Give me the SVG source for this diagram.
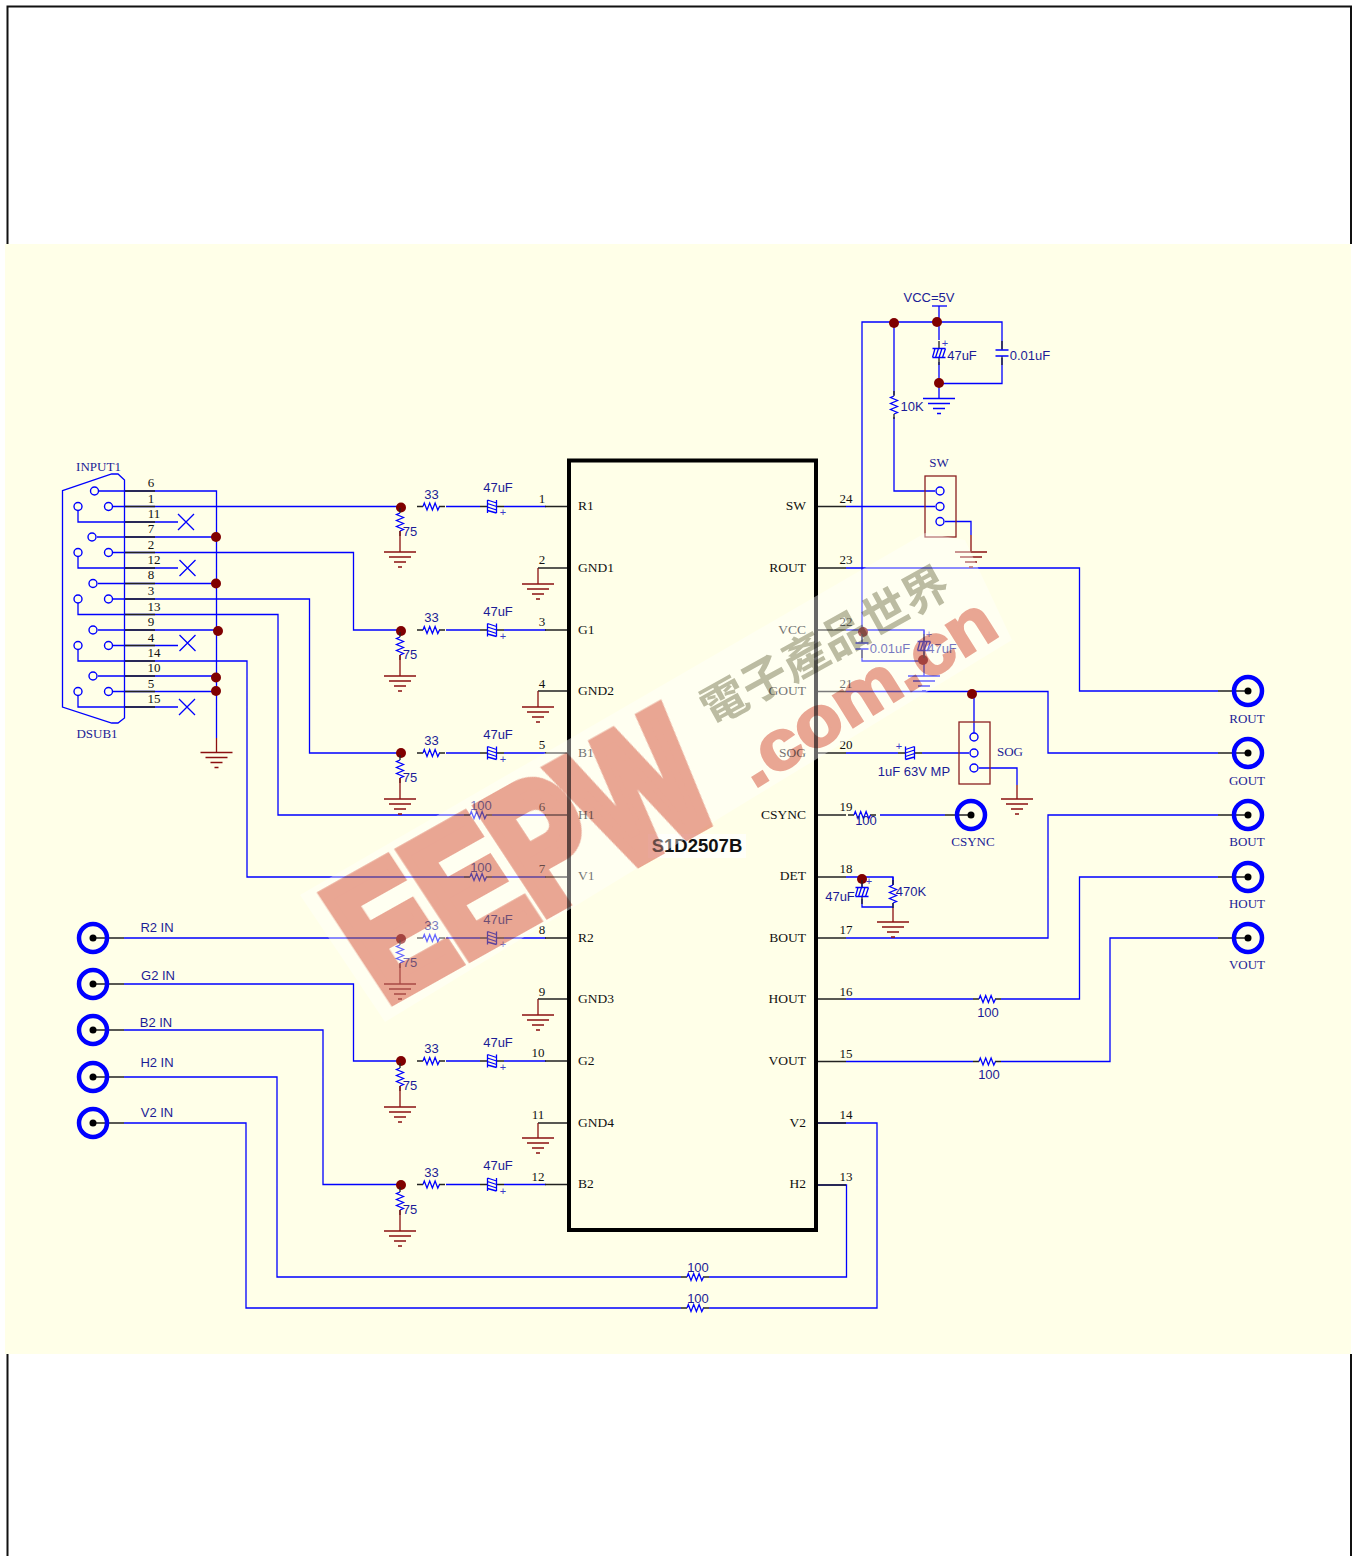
<svg xmlns="http://www.w3.org/2000/svg" xmlns:xlink="http://www.w3.org/1999/xlink" width="1358" height="1556" viewBox="0 0 1358 1556">
<style>
text{text-anchor:middle}
.s{font:13px "Liberation Sans",Arial,sans-serif;fill:#1c1c96}
.b{font:13px "Liberation Serif","Times New Roman",serif;fill:#1c1c96}
.n{font:13px "Liberation Serif","Times New Roman",serif;fill:#111}
.l{font:13.5px "Liberation Serif","Times New Roman",serif;fill:#111;text-anchor:start}
.r{font:13.5px "Liberation Serif","Times New Roman",serif;fill:#111;text-anchor:end}
.p{font:11px "Liberation Sans",Arial,sans-serif;fill:#3a3ac8}
.w{fill:none;stroke:#0000ff;stroke-width:1.3}
.k{fill:none;stroke:#222;stroke-width:1.3}
.m{fill:none;stroke:#8b1010;stroke-width:1.3}
.d{fill:#800000;stroke:none}
.o{fill:none;stroke:#0000ff;stroke-width:1.4}
.box{fill:none;stroke:#8b2020;stroke-width:1.3}
.ring{fill:none;stroke:#0000ff;stroke-width:4.5}
.gr{stroke:#8b1010}
.gb{stroke:#0000ff}
</style>
<defs>
<g id="gnd" fill="none" stroke-width="1.3"><path d="M-16 0H16M-11 5H11M-6 10H6M-2 15H2"/></g>
<g id="rh"><path class="k" d="M-14 0H-8M8 0H14"/><path class="w" d="M-8 0l1.3-3.5 2.7 7 2.7-7 2.7 7 2.7-7 2.7 7 1.7-3.5"/></g>
<g id="rv"><path class="k" d="M0-14V-9M0 9V14"/><path class="w" d="M0-9l-3.5 1.5 7 3-7 3 7 3-7 3 7 3-3.500 1.500"/></g>
<g id="cap"><path class="k" d="M-12 0H-4.500M4.500 0H12"/><path class="w" d="M-4.500-6.500V6.500M4.500-6.500V6.500M-4.500-6.500L4.500-3.500M-4.500-3L4.500 0M-4.500 .5L4.500 3.500M-4.500 4L4.500 6.500"/></g>
<g id="np"><path class="k" d="M0-12V-3M0 3V12"/><path class="w" d="M-6.500-3H6.500M-6.500 3H6.500"/></g>
<g id="conn"><circle class="ring" r="14"/><circle r="3.500" fill="#000"/></g>
</defs>
<rect width="1358" height="1556" fill="#fff"/>
<path d="M7.500 244V6.500H1351V244M7.500 1354V1556M1351 1354V1556" fill="none" stroke="#111" stroke-width="2"/>
<rect x="5" y="244" width="1346" height="1110" fill="#ffffe8"/>

<g id="connectors">
<path class="w" d="M99 491H216.500V738M113 506.500H401M78 510V522H178M97 537H216M113 552.500H353.500V630H401M78 556.500V568H178M98 583.500H216M113 599H309.500V753H401M78 603V614.500H278V815H470M98 630H216M113 645.500H178M78 649.500V661H247V877H470M98 676H216M113 691.500H216M78 695.500V707H178"/>
<path class="w" d="M124 938H401M124 984H353.500V1061H401M124 1030H323V1184.500H401M124 1077H277V1277H681M709 1277H846.500V1185H818M124 1123H246V1308H681M709 1308H877V1123H818"/>
<path class="w" d="M446 506.500H480M446 630H480M446 753H480M446 938H480M446 1061H480M446 1184.500H480M504 506.500H546M504 630H546M504 753H546M504 938H546M504 1061H546M504 1184.500H546M492 815H546M492 877H546"/>
<path class="w" d="M846 506.500H935M846 568H1079.500V691H1218M846 630H924V660M846 691.500H1048V753H1218M846 753H898M922 753H969M846 938H1048V815H1218M846 999H973M1001 999H1079.500V877H1218M846 1061.500H973M1001 1061.500H1110V938H1218M880 815H945M846 877H893V885"/>
<path class="w" d="M862 630V322H1002V349M1002 358V383.500H939M894 322V395M894 417V491H935M939 306V340M939 362V398M862 630V642M862 650V661H923M924 630V640M924 652V676M974 694V733M979 768H1017V785M945 521.500H971V535M862 879V887M862 899V907H893M893 877V885M893 903V908"/>
<path class="m" d="M216.500 738V752M971 535V551M1017 785V799M893 908V922"/>
<path class="k" d="M538 568H568M538 691H568M545 506.500H568M545 630H568M545 753H568M545 815H568M545 877H568M545 938H568M538 999H568M545 1061H568M538 1123H568M545 1184.500H568M817 506.500H846M817 568H846M817 630H846M817 691.500H846M817 753H846M817 815H846M817 877H846M817 938H846M817 999H846M817 1061.500H846M817 1123H846M817 1185H846"/>
<path class="k" d="M125 491H155M125 506.500H155M125 522H155M125 537H155M125 552.500H155M125 568H155M125 583.500H155M125 599H155M125 614.500H155M125 630H155M125 645.500H155M125 661H155M125 676H155M125 691.500H155M125 707H155"/>
<path class="k" d="M93 938H124M93 984H124M93 1030H124M93 1077H124M93 1123H124M1218 691H1248M1218 753H1248M1218 815H1248M1218 877H1248M1218 938H1248M945 815H971"/>
</g>

<g id="S1D2507B">
<rect x="569" y="460.500" width="247" height="769.500" fill="none" stroke="#000" stroke-width="4"/>
<rect x="648" y="834" width="98" height="24" fill="#fff" opacity=".7"/>
<text x="697" y="852" style="font:bold 18.500px 'Liberation Sans',Arial,sans-serif;fill:#111">S1D2507B</text>
<text class="l" x="578" y="510">R1</text><text class="l" x="578" y="572">GND1</text><text class="l" x="578" y="634">G1</text><text class="l" x="578" y="695">GND2</text><text class="l" x="578" y="757">B1</text><text class="l" x="578" y="819">H1</text><text class="l" x="578" y="880">V1</text><text class="l" x="578" y="942">R2</text><text class="l" x="578" y="1003">GND3</text><text class="l" x="578" y="1065">G2</text><text class="l" x="578" y="1127">GND4</text><text class="l" x="578" y="1188">B2</text>
<text class="r" x="806" y="510">SW</text><text class="r" x="806" y="572">ROUT</text><text class="r" x="806" y="634">VCC</text><text class="r" x="806" y="695">GOUT</text><text class="r" x="806" y="757">SOG</text><text class="r" x="806" y="819">CSYNC</text><text class="r" x="806" y="880">DET</text><text class="r" x="806" y="942">BOUT</text><text class="r" x="806" y="1003">HOUT</text><text class="r" x="806" y="1065">VOUT</text><text class="r" x="806" y="1127">V2</text><text class="r" x="806" y="1188">H2</text>
<text class="n" x="542" y="503">1</text><text class="n" x="542" y="564">2</text><text class="n" x="542" y="626">3</text><text class="n" x="542" y="688">4</text><text class="n" x="542" y="749">5</text><text class="n" x="542" y="811">6</text><text class="n" x="542" y="873">7</text><text class="n" x="542" y="934">8</text><text class="n" x="542" y="996">9</text><text class="n" x="538" y="1057">10</text><text class="n" x="538" y="1119">11</text><text class="n" x="538" y="1181">12</text>
<text class="n" x="846" y="503">24</text><text class="n" x="846" y="564">23</text><text class="n" x="846" y="626">22</text><text class="n" x="846" y="688">21</text><text class="n" x="846" y="749">20</text><text class="n" x="846" y="811">19</text><text class="n" x="846" y="873">18</text><text class="n" x="846" y="934">17</text><text class="n" x="846" y="996">16</text><text class="n" x="846" y="1058">15</text><text class="n" x="846" y="1119">14</text><text class="n" x="846" y="1181">13</text>
</g>

<g id="DSUB1">
<path d="M62.500 490.700L111.700 474H118L124.500 480V718L118 723H111.700L62.500 707Z" fill="none" stroke="#0000ff" stroke-width="1.300"/>
<text class="b" x="98.500" y="471">INPUT1</text><text class="b" x="97" y="738">DSUB1</text>
<g class="o"><circle cx="94.500" cy="491" r="4"/><circle cx="108.500" cy="506.500" r="4"/><circle cx="78" cy="506.500" r="4"/><circle cx="92" cy="537" r="4"/><circle cx="108.500" cy="552.500" r="4"/><circle cx="78" cy="552.500" r="4"/><circle cx="93" cy="583.500" r="4"/><circle cx="108.500" cy="599" r="4"/><circle cx="78" cy="599" r="4"/><circle cx="93" cy="630" r="4"/><circle cx="108.500" cy="645.500" r="4"/><circle cx="78" cy="645.500" r="4"/><circle cx="93" cy="676" r="4"/><circle cx="108.500" cy="691.500" r="4"/><circle cx="78" cy="691.500" r="4"/></g>
<text class="n" x="151" y="487">6</text><text class="n" x="151" y="503">1</text><text class="n" x="154" y="518">11</text><text class="n" x="151" y="533">7</text><text class="n" x="151" y="549">2</text><text class="n" x="154" y="564">12</text><text class="n" x="151" y="579">8</text><text class="n" x="151" y="595">3</text><text class="n" x="154" y="611">13</text><text class="n" x="151" y="626">9</text><text class="n" x="151" y="642">4</text><text class="n" x="154" y="657">14</text><text class="n" x="154" y="672">10</text><text class="n" x="151" y="688">5</text><text class="n" x="154" y="703">15</text>
<path class="w" d="M178 514l16 16M194 514l-16 16M179.500 560l16 16M195.500 560l-16 16M179.500 635l16 16M195.500 635l-16 16M179 699l16 16M195 699l-16 16"/>
<circle class="d" cx="216" cy="537" r="5"/><circle class="d" cx="216" cy="583.500" r="5"/><circle class="d" cx="218" cy="631" r="5"/><circle class="d" cx="216" cy="677.500" r="5"/><circle class="d" cx="216" cy="691" r="5"/>
<use href="#gnd" class="gr" x="216.500" y="752.500"/>
</g>

<g id="CH-R1"><circle class="d" cx="401" cy="507.500" r="5"/><use href="#rh" x="431" y="506.500"/><text class="s" x="431.500" y="499">33</text><use href="#cap" x="492" y="506.500"/><text class="s" x="498" y="492">47uF</text><text class="p" x="503" y="516">+</text><use href="#rv" x="400" y="522"/><text class="s" x="410" y="536">75</text><path class="m" d="M400 531V552"/><use href="#gnd" class="gr" x="400" y="552"/></g>
<g id="CH-G1"><circle class="d" cx="401" cy="631" r="5"/><use href="#rh" x="431" y="630"/><text class="s" x="431.500" y="622">33</text><use href="#cap" x="492" y="630"/><text class="s" x="498" y="616">47uF</text><text class="p" x="503" y="640">+</text><use href="#rv" x="400" y="646"/><text class="s" x="410" y="659">75</text><path class="m" d="M400 655V676"/><use href="#gnd" class="gr" x="400" y="676"/></g>
<g id="CH-B1"><circle class="d" cx="401" cy="753" r="5"/><use href="#rh" x="431" y="753"/><text class="s" x="431.500" y="745">33</text><use href="#cap" x="492" y="753"/><text class="s" x="498" y="739">47uF</text><text class="p" x="503" y="763">+</text><use href="#rv" x="400" y="769"/><text class="s" x="410" y="782">75</text><path class="m" d="M400 778V799"/><use href="#gnd" class="gr" x="400" y="799"/></g>
<g id="R-H1"><use href="#rh" x="478" y="815"/><text class="s" x="481" y="810">100</text></g>
<g id="R-V1"><use href="#rh" x="478" y="877"/><text class="s" x="481" y="872">100</text></g>
<g id="CH-R2"><circle class="d" cx="401" cy="939" r="5"/><use href="#rh" x="431" y="938"/><text class="s" x="431.500" y="930">33</text><use href="#cap" x="492" y="938"/><text class="s" x="498" y="924">47uF</text><text class="p" x="503" y="948">+</text><use href="#rv" x="400" y="954"/><text class="s" x="410" y="967">75</text><path class="m" d="M400 963V984"/><use href="#gnd" class="gr" x="400" y="984"/></g>
<g id="CH-G2"><circle class="d" cx="401" cy="1061" r="5"/><use href="#rh" x="431" y="1061"/><text class="s" x="431.500" y="1053">33</text><use href="#cap" x="492" y="1061"/><text class="s" x="498" y="1047">47uF</text><text class="p" x="503" y="1071">+</text><use href="#rv" x="400" y="1077"/><text class="s" x="410" y="1090">75</text><path class="m" d="M400 1086V1107"/><use href="#gnd" class="gr" x="400" y="1107"/></g>
<g id="CH-B2"><circle class="d" cx="401" cy="1185" r="5"/><use href="#rh" x="431" y="1184.500"/><text class="s" x="431.500" y="1177">33</text><use href="#cap" x="492" y="1184.500"/><text class="s" x="498" y="1170">47uF</text><text class="p" x="503" y="1195">+</text><use href="#rv" x="400" y="1201"/><text class="s" x="410" y="1214">75</text><path class="m" d="M400 1210V1231"/><use href="#gnd" class="gr" x="400" y="1231"/></g>

<g id="GND1"><path class="m" d="M538 568V584"/><use href="#gnd" class="gr" x="538" y="584"/></g>
<g id="GND2"><path class="m" d="M538 691V707"/><use href="#gnd" class="gr" x="538" y="707"/></g>
<g id="GND3"><path class="m" d="M538 999V1015"/><use href="#gnd" class="gr" x="538" y="1015"/></g>
<g id="GND4"><path class="m" d="M538 1123V1138"/><use href="#gnd" class="gr" x="538" y="1138"/></g>

<g id="J-R2IN"><use href="#conn" x="93" y="938"/><text class="s" x="157" y="932">R2 IN</text></g>
<g id="J-G2IN"><use href="#conn" x="93" y="984"/><text class="s" x="158" y="980">G2 IN</text></g>
<g id="J-B2IN"><use href="#conn" x="93" y="1030"/><text class="s" x="156" y="1027">B2 IN</text></g>
<g id="J-H2IN"><use href="#conn" x="93" y="1077"/><text class="s" x="157" y="1067">H2 IN</text></g>
<g id="J-V2IN"><use href="#conn" x="93" y="1123"/><text class="s" x="157" y="1117">V2 IN</text></g>
<g id="R-H2"><use href="#rh" x="695" y="1277"/><text class="s" x="698" y="1272">100</text></g>
<g id="R-V2"><use href="#rh" x="695" y="1308"/><text class="s" x="698" y="1303">100</text></g>

<g id="J-ROUT"><use href="#conn" x="1248" y="691"/><text class="b" x="1247" y="723">ROUT</text></g>
<g id="J-GOUT"><use href="#conn" x="1248" y="753"/><text class="b" x="1247" y="785">GOUT</text></g>
<g id="J-BOUT"><use href="#conn" x="1248" y="815"/><text class="b" x="1247" y="846">BOUT</text></g>
<g id="J-HOUT"><use href="#conn" x="1248" y="877"/><text class="b" x="1247" y="908">HOUT</text></g>
<g id="J-VOUT"><use href="#conn" x="1248" y="938"/><text class="b" x="1247" y="969">VOUT</text></g>
<g id="J-CSYNC"><use href="#conn" x="971" y="815"/><text class="b" x="973" y="846">CSYNC</text></g>

<g id="VCC-TOP">
<text class="s" x="929" y="302">VCC=5V</text><path class="w" d="M932 306H947"/>
<circle class="d" cx="937" cy="322" r="5"/><circle class="d" cx="894" cy="323" r="5"/><circle class="d" cx="939" cy="383" r="5"/>
<use href="#cap" transform="translate(939,353) rotate(90)"/><text class="p" x="945" y="347">+</text><text class="s" x="962" y="360">47uF</text>
<use href="#np" x="1002" y="353"/><text class="s" x="1030" y="360">0.01uF</text>
<use href="#gnd" class="gb" x="939" y="398.500"/>
<use href="#rv" x="894" y="405"/><text class="s" x="912" y="411">10K</text>
</g>
<g id="SW"><rect class="box" x="925" y="476" width="31" height="61"/><text class="b" x="939" y="467">SW</text><circle class="o" cx="940" cy="491" r="4"/><circle class="o" cx="940" cy="506.500" r="4"/><circle class="o" cx="940" cy="521.500" r="4"/><use href="#gnd" class="gr" x="971" y="552"/></g>
<g id="VCC-PIN">
<circle class="d" cx="863" cy="632" r="5"/><circle class="d" cx="923" cy="660" r="5"/>
<use href="#np" x="862" y="646"/><text class="s" x="890" y="653">0.01uF</text>
<use href="#cap" transform="translate(924,646) rotate(90)"/><text class="p" x="929" y="638">+</text><text class="s" x="942" y="653">47uF</text>
<use href="#gnd" class="gb" x="924" y="676"/>
</g>
<g id="SOG"><circle class="d" cx="972" cy="694" r="5"/><rect class="box" x="959" y="722" width="31" height="62"/><text class="b" x="1010" y="756">SOG</text><circle class="o" cx="974" cy="737" r="4"/><circle class="o" cx="974" cy="753" r="4"/><circle class="o" cx="974" cy="768" r="4"/><use href="#gnd" class="gr" x="1017" y="799"/></g>
<g id="C-SOG"><use href="#cap" transform="translate(910,753) scale(-1,1)"/><text class="p" x="899" y="750">+</text><text class="s" x="914" y="776">1uF 63V MP</text></g>
<g id="R-CSYNC"><use href="#rh" x="862" y="815"/><text class="s" x="866" y="825">100</text></g>
<g id="DET"><circle class="d" cx="862" cy="879" r="5"/><use href="#cap" transform="translate(862,892) rotate(90)"/><text class="p" x="869" y="885">+</text><text class="s" x="840" y="901">47uF</text><use href="#rv" x="893" y="894"/><text class="s" x="911" y="896">470K</text><use href="#gnd" class="gr" x="893" y="922"/></g>
<g id="R-HOUT"><use href="#rh" x="987" y="999"/><text class="s" x="988" y="1017">100</text></g>
<g id="R-VOUT"><use href="#rh" x="987" y="1061.500"/><text class="s" x="989" y="1079">100</text></g>

<g id="watermark">
<path d="M300 895L925 533L965 540L1012 640L385 1022Z" fill="#fff" opacity=".4"/>
<g style="mix-blend-mode:multiply">
<text transform="translate(385,1003) rotate(-29.300) skewX(4)" textLength="392" lengthAdjust="spacingAndGlyphs" style="font:bold 178px 'Liberation Sans',Arial,sans-serif;fill:#e9a69c;stroke:#e9a69c;stroke-width:14;stroke-linejoin:miter;text-anchor:start">EEPW</text>
<text transform="translate(754,789) rotate(-32)" textLength="292" lengthAdjust="spacingAndGlyphs" style="font:bold 70px 'Liberation Sans',Arial,sans-serif;fill:#e9a69c;stroke:#e9a69c;stroke-width:2.500;text-anchor:start">.com.cn</text>
<text transform="translate(712,727) rotate(-29)" textLength="276" lengthAdjust="spacingAndGlyphs" style="font:bold 46px 'Noto Sans CJK TC','Noto Sans CJK SC',sans-serif;fill:#bcbcac;text-anchor:start">電子產品世界</text>
</g>
</g>
</svg>
